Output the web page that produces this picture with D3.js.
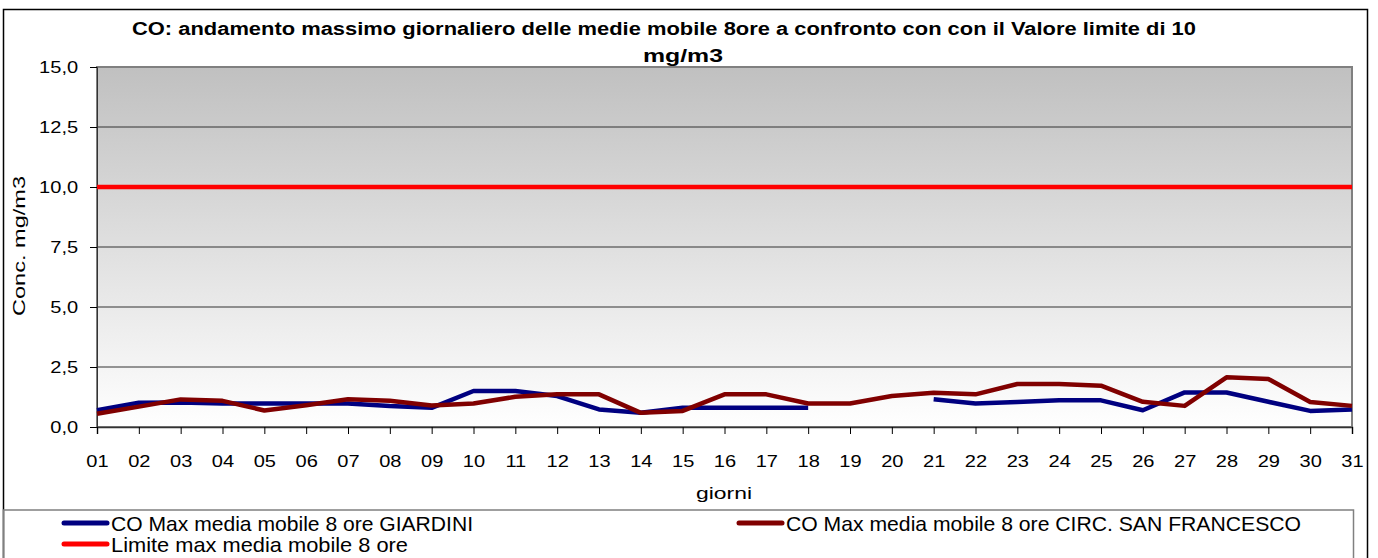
<!DOCTYPE html>
<html>
<head>
<meta charset="utf-8">
<script src="https://cdn.jsdelivr.net/npm/d3@7/dist/d3.min.js"></script>
<style>
  body { margin: 0; background: #fff; }
  svg { font-family: "Liberation Sans", Arial, sans-serif; }
</style>
</head>
<body>
<svg width="1378" height="558"></svg>
<script>
// giorni del mese
const days = ["01","02","03","04","05","06","07","08","09","10","11","12","13","14","15","16",
  "17","18","19","20","21","22","23","24","25","26","27","28","29","30","31"];

// CO max media mobile 8 ore - GIARDINI (null = dato mancante)
const giardini = [0.70, 1.01, 1.02, 0.98, 0.98, 0.98, 0.98, 0.87, 0.80, 1.50, 1.50, 1.29, 0.73, 0.59,
  0.80, 0.80, 0.80, 0.80, null, null, 1.16, 0.98, 1.04, 1.11, 1.11, 0.70, 1.44, 1.44, 1.05, 0.67, 0.73];

// CO max media mobile 8 ore - CIRC. SAN FRANCESCO
const sanFrancesco = [0.55, 0.85, 1.15, 1.09, 0.69, 0.91, 1.16, 1.09, 0.90, 0.98, 1.26, 1.36, 1.36, 0.59,
  0.67, 1.36, 1.36, 0.98, 0.98, 1.29, 1.43, 1.36, 1.79, 1.79, 1.72, 1.05, 0.88, 2.07, 2.00, 1.04, 0.88];

// valore limite
const limite = days.map(() => 10);

const yTicks = [0, 2.5, 5, 7.5, 10, 12.5, 15];

const series = [
  { name: "CO Max media mobile 8 ore GIARDINI", values: giardini, color: "#000080" },
  { name: "CO Max media mobile 8 ore CIRC. SAN FRANCESCO", values: sanFrancesco, color: "#800000" },
  { name: "Limite max media mobile 8 ore", values: limite, color: "#ff0000" }
];

const svg = d3.select("svg");

// bordo esterno
svg.append("rect").attr("x", 3.5).attr("y", 9.5).attr("width", 1364).attr("height", 560)
  .attr("fill", "#fff").attr("stroke", "#000").attr("stroke-width", 1.5);

const pLeft = 97, pRight = 1352, pTop = 67, pBottom = 427;

const x = d3.scalePoint().domain(days).range([pLeft, pRight]);
const y = d3.scaleLinear().domain([0, 15]).range([pBottom, pTop]);

// sfondo sfumato
const grad = svg.append("defs").append("linearGradient")
  .attr("id", "bg").attr("x1", 0).attr("x2", 0).attr("y1", 0).attr("y2", 1);
grad.append("stop").attr("offset", "0%").attr("stop-color", "#c0c0c0");
grad.append("stop").attr("offset", "100%").attr("stop-color", "#ffffff");

svg.append("rect").attr("x", pLeft).attr("y", pTop)
  .attr("width", pRight - pLeft).attr("height", pBottom - pTop)
  .attr("fill", "url(#bg)");

// griglia
svg.append("g").selectAll("line").data(yTicks.filter(d => d > 0)).join("line")
  .attr("x1", pLeft).attr("x2", pRight)
  .attr("y1", d => y(d)).attr("y2", d => y(d))
  .attr("stroke", "#333").attr("stroke-width", 1);

svg.append("rect").attr("x", pLeft).attr("y", pTop)
  .attr("width", pRight - pLeft).attr("height", pBottom - pTop)
  .attr("fill", "none").attr("stroke", "#808080").attr("stroke-width", 2);

// assi (etichette un po' allargate come nell'originale)
const stretch = 1.18;
const yAxis = svg.append("g").attr("transform", `translate(${pLeft},0)`)
  .call(d3.axisLeft(y).tickValues(yTicks).tickSize(7).tickPadding(0)
    .tickFormat(d => d3.format(".1f")(d).replace(".", ",")));
yAxis.select(".domain").attr("stroke", "#333");
yAxis.selectAll(".tick text")
  .attr("font-size", 17).attr("fill", "#000").attr("font-family", "Liberation Sans, Arial, sans-serif")
  .attr("x", -16).attr("dy", "0.34em")
  .attr("transform", `scale(${stretch},1)`);

const xAxis = svg.append("g").attr("transform", `translate(0,${pBottom})`)
  .call(d3.axisBottom(x).tickSize(7).tickPadding(0));
xAxis.select(".domain").attr("stroke", "#333").attr("stroke-width", 1.5);
xAxis.selectAll(".tick text")
  .attr("font-size", 17).attr("fill", "#000").attr("font-family", "Liberation Sans, Arial, sans-serif")
  .attr("y", 40).attr("dy", 0)
  .attr("transform", `scale(${stretch},1)`);

// linee
const line = d3.line()
  .defined(d => d != null)
  .x((d, i) => x(days[i]))
  .y(d => y(d));

svg.append("g").selectAll("path").data(series).join("path")
  .attr("d", d => line(d.values))
  .attr("fill", "none")
  .attr("stroke", d => d.color)
  .attr("stroke-width", 4.5)
  .attr("stroke-linejoin", "round");

// titoli
const title = svg.append("text").attr("font-size", 18).attr("font-weight", "bold");
title.append("tspan").attr("x", 132).attr("y", 35)
  .attr("textLength", 1064).attr("lengthAdjust", "spacingAndGlyphs")
  .text("CO: andamento massimo giornaliero delle medie mobile 8ore a confronto con con il Valore limite di 10");
title.append("tspan").attr("x", 683).attr("y", 62).attr("text-anchor", "middle")
  .attr("textLength", 80).attr("lengthAdjust", "spacingAndGlyphs").text("mg/m3");

svg.append("text").attr("transform", "translate(25,246) rotate(-90)")
  .attr("text-anchor", "middle").attr("font-size", 17)
  .attr("textLength", 140).attr("lengthAdjust", "spacingAndGlyphs").text("Conc. mg/m3");

svg.append("text").attr("x", 724).attr("y", 499)
  .attr("text-anchor", "middle").attr("font-size", 17)
  .attr("textLength", 56).attr("lengthAdjust", "spacingAndGlyphs").text("giorni");

// legenda
svg.append("rect").attr("x", 3.5).attr("y", 510).attr("width", 1350).attr("height", 60)
  .attr("fill", "none").attr("stroke", "#808080").attr("stroke-width", 1.5);

const legendPos = [[62, 523], [737, 523], [62, 544]];
const legendLen = [362, 515, 297];
const leg = svg.append("g").selectAll("g").data(series).join("g")
  .attr("transform", (d, i) => `translate(${legendPos[i][0]},${legendPos[i][1]})`);
leg.append("line").attr("x1", 2).attr("x2", 45)
  .attr("stroke", d => d.color).attr("stroke-width", 5).attr("stroke-linecap", "round");
leg.append("text").attr("x", 49).attr("y", 8).attr("font-size", 21)
  .attr("textLength", (d, i) => legendLen[i]).attr("lengthAdjust", "spacingAndGlyphs")
  .text(d => d.name);
</script>
</body>
</html>
